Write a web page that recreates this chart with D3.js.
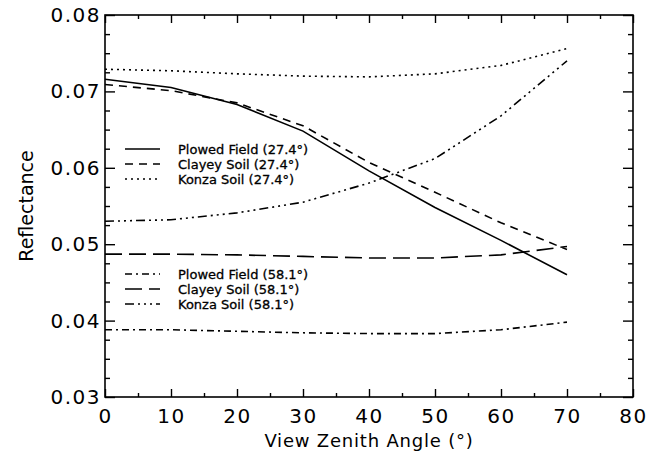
<!DOCTYPE html>
<html>
<head>
<meta charset="utf-8">
<script src="https://cdn.jsdelivr.net/npm/d3@7"></script>
<style>
  body { margin: 0; background: #fff; }
  text { font-family: "DejaVu Sans", sans-serif; fill: #000; }
</style>
</head>
<body>
<div id="wrapper"></div>
<script>
// Data
const angles = [0, 10, 20, 30, 40, 50, 60, 70];
const plowed27 = [0.0716, 0.0705, 0.0683, 0.0648, 0.0596, 0.0548, 0.0505, 0.0460];
const clayey27 = [0.0709, 0.0701, 0.0685, 0.0655, 0.0607, 0.0568, 0.0528, 0.0493];
const konza27  = [0.0729, 0.0727, 0.0723, 0.0720, 0.0719, 0.0723, 0.0734, 0.0756];
const plowed58 = [0.0388, 0.0388, 0.0386, 0.0384, 0.0383, 0.0383, 0.0388, 0.0398];
const clayey58 = [0.0487, 0.0487, 0.0486, 0.0484, 0.0482, 0.0482, 0.0486, 0.0497];
const konza58  = [0.0530, 0.0532, 0.0541, 0.0555, 0.0580, 0.0612, 0.0668, 0.0740];

const legendTop = ["Plowed Field (27.4°)", "Clayey Soil (27.4°)", "Konza Soil (27.4°)"];
const legendBottom = ["Plowed Field (58.1°)", "Clayey Soil (58.1°)", "Konza Soil (58.1°)"];

const xTicks = [0, 10, 20, 30, 40, 50, 60, 70, 80];
const xMinor = [5, 15, 25, 35, 45, 55, 65, 75];
const yTicks = [0.03, 0.04, 0.05, 0.06, 0.07, 0.08];
const yMinor = d3.range(0.0325, 0.08, 0.0025).filter(v => Math.abs(v * 100 - Math.round(v * 100)) > 0.01);

// line styles
const dashes = ["none", "8,6", "2,4", "7,4,2,4", "17,7", "9,4,2,4,2,4,2,4"];

const series = [plowed27, clayey27, konza27, plowed58, clayey58, konza58];

// Chart dimensions
const dimensions = {
    width: 653,
    height: 463,
    margin: { top: 15, right: 20, bottom: 66, left: 105 },
};
dimensions.boundedWidth = dimensions.width - dimensions.margin.left - dimensions.margin.right;
dimensions.boundedHeight = dimensions.height - dimensions.margin.top - dimensions.margin.bottom;

const wrapper = d3.select("#wrapper").append("svg")
    .attr("width", dimensions.width)
    .attr("height", dimensions.height);
const bounds = wrapper.append("g")
    .attr("transform", `translate(${dimensions.margin.left},${dimensions.margin.top})`);

// Scales
const xScale = d3.scaleLinear().domain([0, 80]).range([0, dimensions.boundedWidth]);
const yScale = d3.scaleLinear().domain([0.03, 0.08]).range([dimensions.boundedHeight, 0]);

// Axes (ticks point inward)
function styleAxis(g) {
    g.select(".domain").remove();
    g.selectAll(".tick line").attr("stroke", "#000").attr("stroke-width", 1.4);
    g.selectAll("text").style("font-size", "20px").style("letter-spacing", "1.5px");
}

bounds.append("g")
    .call(d3.axisLeft(yScale).tickValues(yTicks).tickSize(-10).tickPadding(4)
        .tickFormat(d3.format(".2f")))
    .call(styleAxis);
bounds.append("g")
    .call(d3.axisLeft(yScale).tickValues(yMinor).tickSize(-5).tickFormat(""))
    .call(styleAxis);
bounds.append("g").attr("transform", `translate(${dimensions.boundedWidth},0)`)
    .call(d3.axisRight(yScale).tickValues(yTicks).tickSize(-10).tickFormat(""))
    .call(styleAxis);
bounds.append("g").attr("transform", `translate(${dimensions.boundedWidth},0)`)
    .call(d3.axisRight(yScale).tickValues(yMinor).tickSize(-5).tickFormat(""))
    .call(styleAxis);

bounds.append("g").attr("transform", `translate(0,${dimensions.boundedHeight})`)
    .call(d3.axisBottom(xScale).tickValues(xTicks).tickSize(-8).tickPadding(12))
    .call(styleAxis);
bounds.append("g").attr("transform", `translate(0,${dimensions.boundedHeight})`)
    .call(d3.axisBottom(xScale).tickValues(xMinor).tickSize(-4).tickFormat(""))
    .call(styleAxis);
bounds.append("g")
    .call(d3.axisTop(xScale).tickValues(xTicks).tickSize(-8).tickFormat(""))
    .call(styleAxis);
bounds.append("g")
    .call(d3.axisTop(xScale).tickValues(xMinor).tickSize(-4).tickFormat(""))
    .call(styleAxis);

// Frame
bounds.append("rect")
    .attr("width", dimensions.boundedWidth)
    .attr("height", dimensions.boundedHeight)
    .attr("fill", "none")
    .attr("stroke", "#000")
    .attr("stroke-width", 1.6);

// Lines
const lineGenerator = d3.line()
    .x((d, i) => xScale(angles[i]))
    .y(d => yScale(d));

bounds.selectAll(".series")
    .data(series)
    .join("path")
        .attr("class", "series")
        .attr("d", d => lineGenerator(d))
        .attr("fill", "none")
        .attr("stroke", "#000")
        .attr("stroke-width", 1.6)
        .attr("stroke-dasharray", (d, i) => dashes[i]);

// Legends
function drawLegend(labels, styleOffset, rowY) {
    const g = bounds.append("g");
    labels.forEach((label, i) => {
        const y = rowY + i * 15;
        g.append("line")
            .attr("x1", 20).attr("x2", 55)
            .attr("y1", y).attr("y2", y)
            .attr("stroke", "#000")
            .attr("stroke-width", 1.6)
            .attr("stroke-dasharray", dashes[styleOffset + i]);
        g.append("text")
            .attr("x", 73).attr("y", y + 5)
            .style("font-size", "13px")
            .attr("stroke", "#000").attr("stroke-width", 0.3)
            .text(label);
    });
}
drawLegend(legendTop, 0, 134);
drawLegend(legendBottom, 3, 259);

// Axis labels
wrapper.append("text")
    .attr("x", dimensions.margin.left + dimensions.boundedWidth / 2)
    .attr("y", 447)
    .attr("text-anchor", "middle")
    .style("font-size", "18px")
    .style("letter-spacing", "0.8px")
    .text("View Zenith Angle (°)");

wrapper.append("text")
    .attr("transform", `translate(33,${dimensions.margin.top + dimensions.boundedHeight / 2}) rotate(-90)`)
    .attr("text-anchor", "middle")
    .style("font-size", "19px")
    .text("Reflectance");
</script>
</body>
</html>
